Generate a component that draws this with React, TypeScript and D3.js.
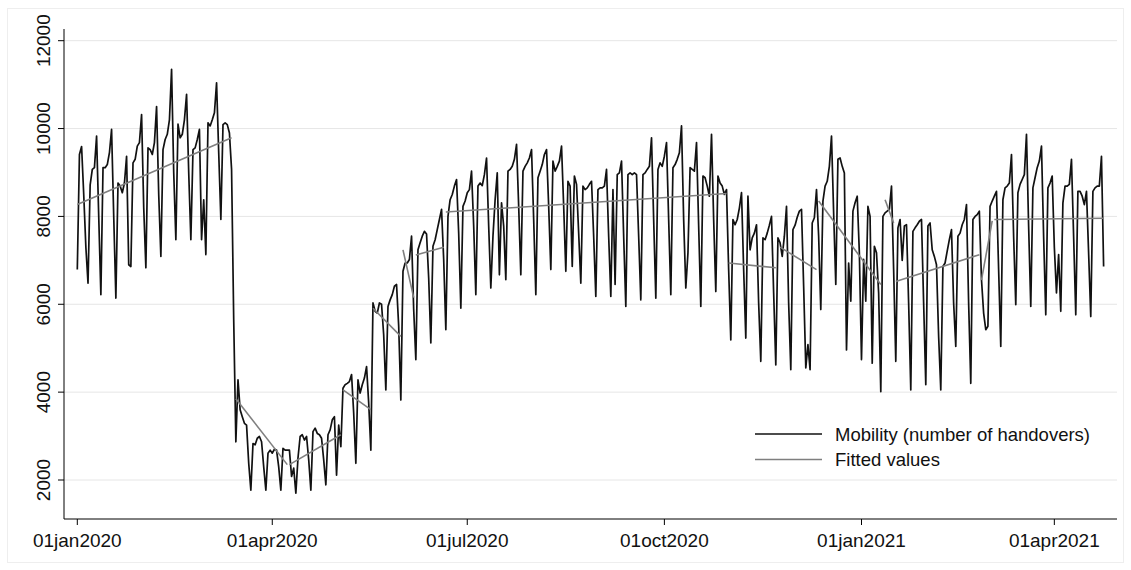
import React, { useEffect, useRef } from "react";
import * as d3 from "d3";

// daily series starts on this date (Wed)
const startDate = "2020-01-01";

// Mobility (number of handovers), one value per day, rows = weeks (Mon..Sun)
const handovers = [
  6790, 9410, 9590, 8500, 7300,
  6480, 8720, 9070, 9110, 9830, 8000, 6220,
  9110, 9110, 9180, 9450, 9980, 8000, 6140,
  8760, 8690, 8540, 8760, 9370, 6900, 6860,
  9220, 9300, 9600, 9680, 10320, 8200, 6830,
  9560, 9520, 9410, 9680, 10500, 8500, 7090,
  9520, 9750, 9870, 10200, 11350, 9000, 7470,
  10100, 9790, 9870, 10200, 10780, 9000, 7470,
  9520, 9560, 9750, 9980, 7470, 8380, 7130,
  10130, 10060, 10200, 10360, 11040, 9450, 7930,
  10090, 10130, 10090, 9900, 9070, 5650, 2870,
  4280, 3600, 3440, 3290, 3250, 2380, 1770,
  2830, 2800, 2950, 2990, 2870, 2300, 1770,
  2610, 2680, 2610, 2700, 2680, 2300, 1770,
  2720, 2680, 2680, 2680, 2080, 2270, 1700,
  2500, 2990, 3030, 2910, 2990, 2460, 1770,
  3100, 3180, 3060, 3030, 2950, 2460, 1890,
  3030, 3140, 3370, 3440, 2110, 3250, 2760,
  4090, 4170, 4200, 4240, 4400, 3520, 2380,
  4280, 3980, 4170, 4320, 4580, 3750, 2680,
  6030, 5840, 5800, 6030, 6000, 5300, 4050,
  5950, 6100, 6220, 6410, 6450, 5500, 3820,
  6750, 6940, 6940, 7020, 7550, 5880, 4740,
  7240, 7400, 7550, 7660, 7600, 6600, 5120,
  7320, 7470, 7700, 7930, 8160, 7020, 5420,
  8000, 8380, 8500, 8690, 8840, 7620, 5910,
  8230, 8350, 8540, 8610, 9030, 7780, 6220,
  8690, 8760, 8700, 8950, 9330, 7780, 6370,
  7550, 8380, 8990, 6670, 8310, 7780, 6560,
  9030, 9070, 9140, 9300, 9640, 8230, 6670,
  9030, 9140, 9220, 9330, 9520, 7930, 6220,
  8880, 9030, 9180, 9410, 9520, 8230, 6790,
  9260, 9030, 9140, 9260, 9600, 8230, 6750,
  8800, 8690, 6860, 8920, 8730, 7620, 6480,
  8690, 8610, 8650, 8730, 8800, 7550, 6180,
  8610, 8650, 8650, 8690, 9070, 7550, 6180,
  8610, 6450, 8950, 8990, 9260, 7550, 5950,
  8950, 8990, 8950, 8990, 8950, 7550, 6100,
  8950, 8990, 9070, 9140, 9790, 7930, 6140,
  9070, 9220, 9140, 9370, 9680, 7930, 6220,
  9110, 9180, 9300, 9450, 10060, 7930, 6370,
  7170, 9110, 9070, 9030, 9680, 7780, 5950,
  8920, 8880, 8690, 8460, 9870, 7930, 6290,
  8920, 8760, 8690, 8500, 8610, 6790, 5190,
  7930, 7810, 7930, 8190, 8540, 6790, 5230,
  8460, 7240, 7510, 7620, 7810, 6030, 4700,
  7510, 7470, 7620, 7800, 8000, 6260, 4620,
  7510, 7400, 7090, 7550, 8230, 6030, 4510,
  7700, 7800, 7980, 8120, 8160, 6410, 4550,
  5080, 4510, 7850, 7970, 8610, 7550, 5880,
  8350, 8690, 8800, 9140, 9830, 8080, 6450,
  9300, 9330, 9140, 8990, 4960, 6940, 6070,
  8120, 8310, 8460, 7170, 4740, 7020, 6070,
  8230, 8000, 4660, 7320, 7170, 6260, 4010,
  8000, 8080, 8120, 8160, 8690, 6790, 4700,
  7740, 7930, 7000, 7780, 7810, 6030, 4050,
  7660, 7740, 7810, 7890, 7930, 6030, 4170,
  7780, 7850, 7240, 7090, 6900, 5270, 4050,
  6860, 6940, 7210, 7470, 7700, 6030, 5040,
  7550, 7620, 7810, 7930, 8270, 6030, 4200,
  7930, 8000, 8040, 8120, 6560, 5800, 5420,
  5500, 8230, 8350, 8460, 8570, 6790, 5040,
  8380, 8650, 8690, 8760, 9410, 7550, 5990,
  8540, 8730, 8840, 8950, 9870, 7780, 5950,
  8650, 8880, 9110, 9260, 9600, 7550, 5760,
  8650, 8760, 8920, 7300, 6260, 7130, 5840,
  8310, 8690, 8690, 8730, 9300, 7550, 5760,
  8570, 8570, 8460, 8270, 8570, 7170, 5720,
  8570, 8650, 8690, 8690, 9370, 6860,
];

// fitted values: one straight segment per period (day index from startDate)
const fitFromDay = [0, 74, 99, 124, 138, 152, 158, 172, 304, 328, 346, 377, 382, 422, 428];
const fitToDay = [72, 98, 123, 137, 151, 157, 171, 303, 326, 345, 375, 381, 421, 427, 479];
const fitFromVal = [8270, 3850, 2350, 4050, 5910, 7240, 7120, 8100, 6940, 7300, 8350, 8380, 6520, 6550, 7930];
const fitToVal = [9790, 2350, 3030, 3600, 5270, 6150, 7300, 8520, 6830, 6790, 6450, 7850, 7130, 7900, 7960];

const yTicks = [2000, 4000, 6000, 8000, 10000, 12000];
const xTicks = ["2020-01-01", "2020-04-01", "2020-07-01", "2020-10-01", "2021-01-01", "2021-04-01"];
const legendLabels = ["Mobility (number of handovers)", "Fitted values"];

export default function App() {
  const ref = useRef<SVGSVGElement | null>(null);

  useEffect(() => {
    const width = 1131, height = 570;
    const left = 64, right = 1117, top = 29, bottom = 519;
    const font = "'Liberation Sans', Arial, sans-serif";

    const svg = d3.select(ref.current);
    svg.selectAll("*").remove();

    const x = d3.scaleUtc()
      .domain([new Date("2020-01-01"), new Date("2021-01-01")])
      .range([77.3, 861.5]);
    const y = d3.scaleLinear().domain([2000, 12000]).range([480, 40.7]);

    const t0 = new Date(startDate);
    const dayDate = (i: number) => d3.utcDay.offset(t0, i);

    svg.append("rect").attr("width", width).attr("height", height).attr("fill", "#fff");
    svg.append("rect")
      .attr("x", 7.5).attr("y", 8.5).attr("width", 1116).attr("height", 554)
      .attr("fill", "none").attr("stroke", "#eeeeee");

    // grid
    svg.append("g").selectAll("line").data(yTicks).enter().append("line")
      .attr("x1", left).attr("x2", right)
      .attr("y1", (d) => y(d)).attr("y2", (d) => y(d))
      .attr("stroke", "#e6e6e6").attr("stroke-width", 1);

    // axes
    svg.append("line").attr("x1", left).attr("x2", left).attr("y1", top).attr("y2", bottom)
      .attr("stroke", "#000").attr("stroke-width", 1);
    svg.append("line").attr("x1", left).attr("x2", right).attr("y1", bottom).attr("y2", bottom)
      .attr("stroke", "#000").attr("stroke-width", 1);

    const yg = svg.append("g");
    yg.selectAll("line").data(yTicks).enter().append("line")
      .attr("x1", left - 6).attr("x2", left)
      .attr("y1", (d) => y(d)).attr("y2", (d) => y(d))
      .attr("stroke", "#000");
    yg.selectAll("text").data(yTicks).enter().append("text")
      .attr("transform", (d) => `translate(50,${y(d)}) rotate(-90)`)
      .attr("text-anchor", "middle")
      .style("font-family", font).style("font-size", "19px").attr("fill", "#111")
      .text((d) => String(d));

    const fmt = d3.utcFormat("%d%b%Y");
    const xg = svg.append("g");
    xg.selectAll("line").data(xTicks).enter().append("line")
      .attr("x1", (d) => x(new Date(d))).attr("x2", (d) => x(new Date(d)))
      .attr("y1", bottom).attr("y2", bottom + 6)
      .attr("stroke", "#000");
    xg.selectAll("text").data(xTicks).enter().append("text")
      .attr("x", (d) => x(new Date(d))).attr("y", 547)
      .attr("text-anchor", "middle")
      .style("font-family", font).style("font-size", "19px").attr("fill", "#111")
      .text((d) => fmt(new Date(d)).toLowerCase());

    // mobility line
    const line = d3.line<number>()
      .x((_, i) => x(dayDate(i)))
      .y((d) => y(d));
    svg.append("path").datum(handovers)
      .attr("d", line)
      .attr("fill", "none").attr("stroke", "#111").attr("stroke-width", 1.7)
      .attr("stroke-linejoin", "round");

    // fitted segments
    const segs = fitFromDay.map((d, i) => [
      [d, fitFromVal[i]],
      [fitToDay[i], fitToVal[i]],
    ]);
    const segLine = d3.line<number[]>()
      .x((p) => x(dayDate(p[0])))
      .y((p) => y(p[1]));
    svg.append("g").selectAll("path").data(segs).enter().append("path")
      .attr("d", (s) => segLine(s))
      .attr("fill", "none").attr("stroke", "#7f7f7f").attr("stroke-width", 1.6);

    // legend
    const lg = svg.append("g");
    const colors = ["#111", "#7f7f7f"];
    const widths = [1.7, 1.6];
    legendLabels.forEach((lab, i) => {
      const ly = 434 + i * 25.5;
      lg.append("line").attr("x1", 755).attr("x2", 822).attr("y1", ly).attr("y2", ly)
        .attr("stroke", colors[i]).attr("stroke-width", widths[i]);
      lg.append("text").attr("x", 835).attr("y", ly + 6.5)
        .style("font-family", font).style("font-size", "18.5px").attr("fill", "#111")
        .text(lab);
    });
  }, []);

  return (
    <div style={{ position: "absolute", left: 0, top: 0 }}>
      <svg ref={ref} width={1131} height={570} style={{ display: "block" }} />
    </div>
  );
}
